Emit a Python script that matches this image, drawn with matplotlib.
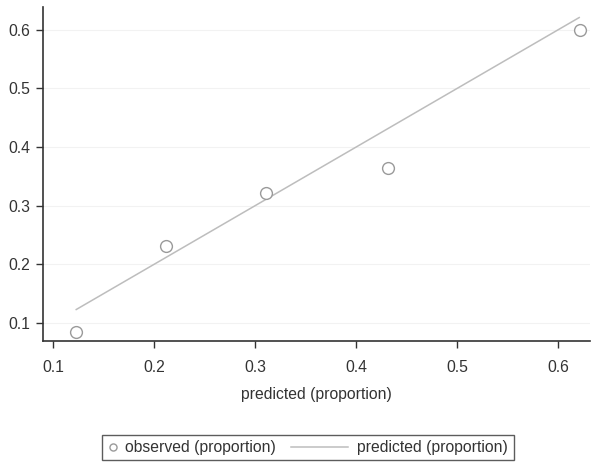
import matplotlib
matplotlib.use("Agg")
import matplotlib.pyplot as plt
from matplotlib.legend_handler import HandlerLine2D

# calibration groups
predicted = [0.123, 0.212, 0.311, 0.432, 0.622]
observed = [0.084, 0.232, 0.322, 0.365, 0.599]
line_x = [0.123, 0.621]
xticks = [0.1, 0.2, 0.3, 0.4, 0.5, 0.6]
yticks = [0.1, 0.2, 0.3, 0.4, 0.5, 0.6]

plt.rcParams['font.family'] = ['Liberation Sans', 'DejaVu Sans']
FS = 11.3


class MarkerHandler(HandlerLine2D):
    # put the small circle near the left of its slot
    def create_artists(self, legend, orig_handle, xdescent, ydescent,
                       width, height, fontsize, trans):
        return super().create_artists(legend, orig_handle, xdescent, ydescent,
                                      width * 0.6, height, fontsize, trans)


class LongLineHandler(HandlerLine2D):
    # stretch the line sample to the left into the column gap
    def create_artists(self, legend, orig_handle, xdescent, ydescent,
                       width, height, fontsize, trans):
        return super().create_artists(legend, orig_handle, xdescent + 3.14 * width,
                                      ydescent, width * 3.67, height, fontsize, trans)


fig = plt.figure(figsize=(6, 4.7), dpi=100)
ax = fig.add_axes([43/600, 1 - 341/470, (590-43)/600, (341-7)/470])

for y in yticks:
    ax.axhline(y, color='#f2f2f2', lw=0.8, zorder=0)

pts, = ax.plot(predicted, observed, 'o', mfc='white', mec='#9a9a9a', mew=1.0, ms=8.5,
               ls='none', label='observed (proportion)', zorder=3)
ln, = ax.plot(line_x, line_x, color='#bdbdbd', lw=1.1, label='predicted (proportion)', zorder=2)

ax.set_xlim(0.0901, 0.6317)
ax.set_ylim(0.0693, 0.639)
ax.set_xticks(xticks)
ax.set_yticks(yticks)
ax.set_xticklabels([f"{v:g}" for v in xticks])
ax.set_yticklabels([f"{v:g}" for v in yticks])
ax.spines['top'].set_visible(False)
ax.spines['right'].set_visible(False)
for s in ['left', 'bottom']:
    ax.spines[s].set_color('#333333')
    ax.spines[s].set_linewidth(1.2)
ax.tick_params(direction='out', length=5, width=1, color='#333333',
               labelsize=FS, labelcolor='#333333')
ax.tick_params(axis='x', pad=8.5)
ax.tick_params(axis='y', pad=4)
ax.set_xlabel('predicted (proportion)', fontsize=FS, color='#333333', labelpad=9)

leg = fig.legend(handles=[pts, ln], loc='center', bbox_to_anchor=(308/600, 1 - 447.5/470),
                 ncol=2, fontsize=FS, frameon=True, fancybox=False, edgecolor='#333333',
                 handlelength=1.0, handletextpad=0.1, columnspacing=4.1, markerscale=0.6,
                 borderpad=0.35, borderaxespad=0,
                 handler_map={pts: MarkerHandler(), ln: LongLineHandler()})
leg.get_frame().set_linewidth(1.0)
for t in leg.get_texts():
    t.set_color('#333333')

fig.savefig('out.png', dpi=100)
